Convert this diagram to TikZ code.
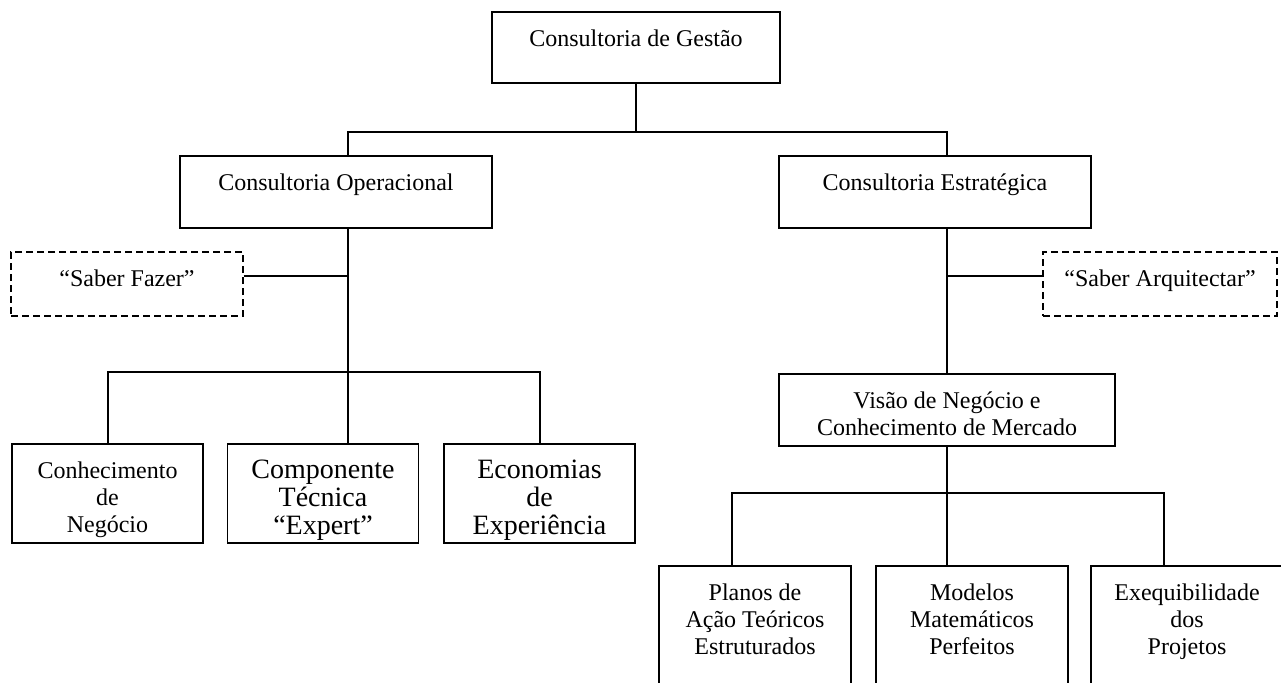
\documentclass[tikz,border=0pt]{standalone}
\usepackage{fontspec}
\setmainfont{Liberation Serif}
\newcommand{\tb}[5]{\parbox[c][#2][t]{#1}{\fontsize{#4}{#5}\selectfont\centering\vspace*{\dimexpr 25.5pt-0.8em\relax}\rule{0pt}{0.8em}#3\par}}
\tikzset{
  box/.style={draw, line width=1.1pt, inner sep=0pt, rectangle},
  dbox/.style={draw, line width=1.1pt, inner sep=0pt, rectangle, dash pattern=on 5.25pt off 3pt},
  conn/.style={line width=1.1pt},
}
\begin{document}
\begin{tikzpicture}[x=0.75pt, y=-0.75pt]
\useasboundingbox (0,0) rectangle (1281,682);
\clip (0,0) rectangle (1281,682);
% boxes
\node[box] (gestao) at (636,47.5) {\tb{216pt}{53.25pt}{Consultoria de Gestão}{18pt}{20.25pt}};
\node[box] (oper) at (336,192) {\tb{234pt}{54pt}{Consultoria Operacional}{18pt}{20.25pt}};
\node[box] (estr) at (935,192) {\tb{234pt}{54pt}{Consultoria Estratégica}{18pt}{20.25pt}};
\node[dbox] (fazer) at (127,284) {\tb{174pt}{48pt}{“Saber Fazer”}{18pt}{20.25pt}};
\node[dbox] (arq) at (1160,284) {\tb{175.5pt}{48pt}{“Saber Arquitectar”}{18pt}{20.25pt}};
\node[box] (visao) at (947,410) {\tb{252pt}{54pt}{Visão de Negócio e\\Conhecimento de Mercado}{18pt}{20.25pt}};
\node[box] (b1) at (107.5,493.5) {\tb{143.25pt}{74.25pt}{Conhecimento\\de\\Negócio}{18pt}{20.25pt}};
\node[box] (b2) at (323,493.5) {\tb{143.25pt}{74.25pt}{Componente\\Técnica\\“Expert”}{21pt}{21pt}};
\node[box] (b3) at (539.5,493.5) {\tb{143.25pt}{74.25pt}{Economias\\de\\Experiência}{21pt}{21pt}};
\node[box] (r1) at (755,633) {\tb{144pt}{100.5pt}{Planos de\\Ação Teóricos\\Estruturados}{18pt}{20.25pt}};
\node[box] (r2) at (972,633) {\tb{144pt}{100.5pt}{Modelos\\Matemáticos\\Perfeitos}{18pt}{20.25pt}};
\node[box] (r3) at (1187,633) {\tb{144pt}{100.5pt}{Exequibilidade\\dos\\Projetos}{18pt}{20.25pt}};
% junction coordinates
\coordinate (j0) at (636,132);
\coordinate (jL) at (348,132);
\coordinate (jR) at (947,132);
\coordinate (jF) at (348,276);
\coordinate (jA) at (947,276);
\coordinate (kM) at (348,372);
\coordinate (kL) at (108,372);
\coordinate (kR) at (540,372);
\coordinate (mM) at (947,493);
\coordinate (mL) at (732,493);
\coordinate (mR) at (1164,493);
% connectors
\draw[conn] (gestao.south) -- (j0);
\draw[conn] (jL |- oper.north) -- (jL) -- (jR) -- (jR |- estr.north);
\draw[conn] (jL |- oper.south) -- (kM);
\draw[conn] (fazer.east |- jF) -- (jF);
\draw[conn] (kL |- b1.north) -- (kL) -- (kR) -- (kR |- b3.north);
\draw[conn] (kM) -- (kM |- b2.north);
\draw[conn] (jR |- estr.south) -- (jR |- visao.north);
\draw[conn] (jA) -- (arq.west |- jA);
\draw[conn] (mM |- visao.south) -- (mM |- r2.north);
\draw[conn] (mL |- r1.north) -- (mL) -- (mR) -- (mR |- r3.north);
\end{tikzpicture}
\end{document}
